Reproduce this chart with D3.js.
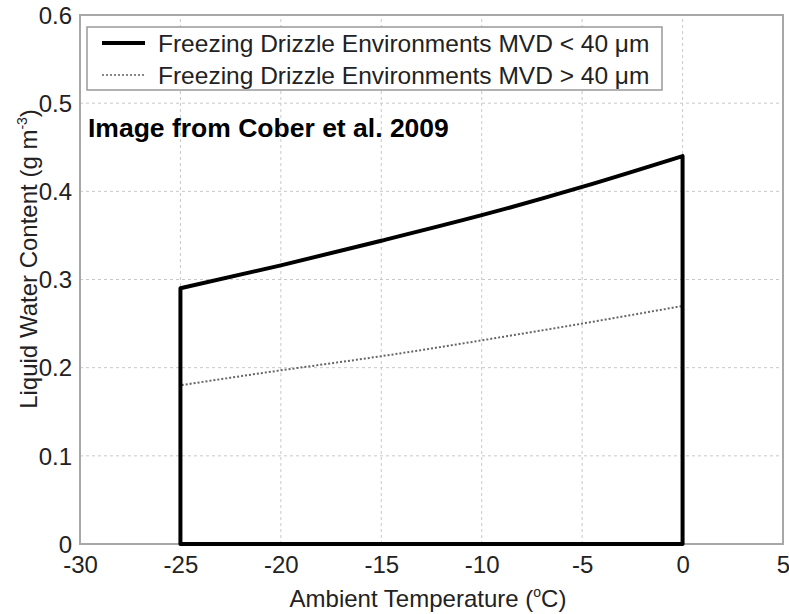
<!DOCTYPE html>
<html><head><meta charset="utf-8">
<script src="https://cdn.jsdelivr.net/npm/d3@7"></script>
<style>body{margin:0;background:#fff}svg{display:block}</style>
</head><body>
<script>
const xTicks = [-30,-25,-20,-15,-10,-5,0,5];
const yTicks = [0,0.1,0.2,0.3,0.4,0.5,0.6];
const temps = [-25,-20,-15,-10,-5,0];
const lwcSmall = [0.29,0.316,0.344,0.373,0.405,0.44];
const lwcLarge = [0.18,0.197,0.213,0.231,0.25,0.27];
const legendLabels = ["Freezing Drizzle Environments MVD < 40 \u03bcm","Freezing Drizzle Environments MVD > 40 \u03bcm"];

const W=789,H=614;
const svg=d3.select("body").append("svg").attr("width",W).attr("height",H);
const x=d3.scaleLinear().domain([-30,5]).range([80,783]);
const y=d3.scaleLinear().domain([0,0.6]).range([544,15]);
const font="Liberation Sans, Arial, sans-serif";
const fs=24;

// grid
svg.append("g").selectAll("line").data(xTicks.slice(1,-1)).join("line")
 .attr("x1",d=>x(d)).attr("x2",d=>x(d)).attr("y1",y(0)).attr("y2",y(0.6))
 .attr("stroke","#c8c8c8").attr("stroke-width",1).attr("stroke-dasharray","3,3");
svg.append("g").selectAll("line").data(yTicks.slice(1,-1)).join("line")
 .attr("y1",d=>y(d)).attr("y2",d=>y(d)).attr("x1",x(-30)).attr("x2",x(5))
 .attr("stroke","#c8c8c8").attr("stroke-width",1).attr("stroke-dasharray","3,3");

// box
svg.append("rect").attr("x",x(-30)).attr("y",y(0.6)).attr("width",x(5)-x(-30)).attr("height",y(0)-y(0.6))
 .attr("fill","none").attr("stroke","#a8a8a8").attr("stroke-width",2);

// axes ticks labels
const xAxis=d3.axisBottom(x).tickValues(xTicks).tickSize(0).tickPadding(0).tickFormat(d=>String(d));
const gx=svg.append("g").attr("transform",`translate(0,${y(0)})`).call(xAxis);
gx.select(".domain").remove();
gx.selectAll("text").attr("font-family",font).attr("font-size",fs).attr("fill","#222").attr("y",29).attr("dy",0);
const yAxis=d3.axisLeft(y).tickValues(yTicks).tickSize(0).tickPadding(8).tickFormat(d=>d===0?"0":d3.format(".1f")(d));
const gy=svg.append("g").attr("transform",`translate(${x(-30)},0)`).call(yAxis);
gy.select(".domain").remove();
gy.selectAll("text").attr("font-family",font).attr("font-size",fs).attr("fill","#222").attr("dy","0.34em");

// titles
const xt=svg.append("text").attr("x",428).attr("y",607).attr("text-anchor","middle")
 .attr("font-family",font).attr("font-size",fs).attr("fill","#222");
xt.append("tspan").text("Ambient Temperature (");
xt.append("tspan").text("o").attr("font-size",14).attr("dy",-10);
xt.append("tspan").text("C)").attr("dy",10);
const yt=svg.append("text").attr("transform","translate(37,259) rotate(-90)").attr("text-anchor","middle")
 .attr("font-family",font).attr("font-size",fs).attr("fill","#222");
yt.append("tspan").text("Liquid Water Content (g m");
yt.append("tspan").text("-3").attr("font-size",14).attr("dy",-10);
yt.append("tspan").text(")").attr("dy",10);

// series outlines: vertical up at first temp, top curve, vertical down at last temp, back along zero
const topCurve=d3.line().x((d,i)=>x(temps[i])).y(d=>y(d)).curve(d3.curveNatural);
function outline(vals){
  const c=topCurve(vals);
  return `M${x(temps[0])},${y(0)}L${c.slice(1)}L${x(temps[temps.length-1])},${y(0)}Z`;
}
svg.append("path").attr("d",outline(lwcLarge)).attr("fill","none")
 .attr("stroke","#666").attr("stroke-width",2).attr("stroke-dasharray","2,2");
svg.append("path").attr("d",outline(lwcSmall)).attr("fill","none")
 .attr("stroke","#000").attr("stroke-width",4).attr("stroke-linejoin","round");

// legend
svg.append("rect").attr("x",87).attr("y",27).attr("width",575).attr("height",63)
 .attr("fill","#fff").attr("stroke","#999").attr("stroke-width",1.5);
const lg=svg.append("g");
[0,1].forEach(i=>{
  const yy=43+i*32;
  lg.append("line").attr("x1",102).attr("x2",145).attr("y1",yy).attr("y2",yy)
   .attr("stroke",i?"#888":"#000").attr("stroke-width",i?2:4).attr("stroke-dasharray",i?"2,2":null);
  lg.append("text").attr("x",158).attr("y",yy+9).text(legendLabels[i])
   .attr("font-family",font).attr("font-size",24.5).attr("fill","#222");
});

svg.append("text").attr("x",88).attr("y",137).text("Image from Cober et al. 2009")
 .attr("font-family",font).attr("font-size",26.5).attr("font-weight","bold").attr("fill","#000");
</script>
</body></html>
